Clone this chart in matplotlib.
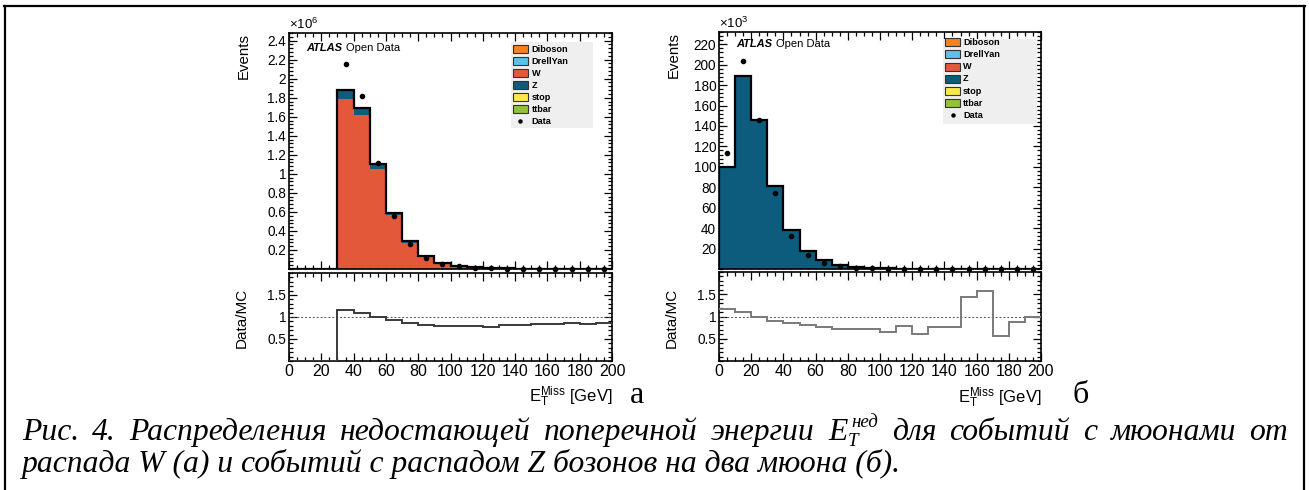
import numpy as np
import matplotlib
matplotlib.use("Agg")
import matplotlib.pyplot as plt
from matplotlib.ticker import MultipleLocator, FixedLocator, FuncFormatter, NullFormatter
from matplotlib.patches import Rectangle
from matplotlib.lines import Line2D

# ---------------- data ----------------
bin_edges = [0, 10, 20, 30, 40, 50, 60, 70, 80, 90, 100, 110, 120, 130, 140, 150, 160, 170, 180, 190, 200]
x_ticks = [0, 20, 40, 60, 80, 100, 120, 140, 160, 180, 200]
legend_names = ["Diboson", "DrellYan", "W", "Z", "stop", "ttbar"]

# (a) W -> mu nu selection
a_W = [0, 0, 0, 1.786e6, 1.623e6, 1.047e6, 0.566e6, 0.273e6, 0.123e6, 0.060e6, 0.031e6, 0.016e6,
       0.009e6, 0.005e6, 0.003e6, 0.002e6, 0.0013e6, 0.0009e6, 0.0006e6, 0.0004e6]
a_Z = [0, 0, 0, 0.098e6, 0.070e6, 0.059e6, 0.025e6, 0.021e6, 0.014e6, 0.007e6, 0.004e6, 0.002e6,
       0.001e6, 0.0006e6, 0.0004e6, 0.0003e6, 0.0002e6, 0.0001e6, 0.0001e6, 0.0001e6]
a_Diboson = [0, 0, 0, 300, 300, 250, 200, 150, 120, 90, 70, 50, 40, 30, 25, 20, 15, 12, 10, 8]
a_DrellYan = [0, 0, 0, 200, 150, 100, 60, 40, 25, 15, 10, 6, 4, 3, 2, 2, 1, 1, 1, 1]
a_stop = [0, 0, 0, 400, 400, 350, 300, 250, 200, 150, 120, 90, 70, 50, 40, 30, 25, 20, 15, 12]
a_ttbar = [0, 0, 0, 900, 950, 900, 800, 700, 600, 500, 400, 320, 250, 200, 160, 120, 100, 80, 60, 50]
a_data = [0, 0, 0, 2.152e6, 1.818e6, 1.117e6, 0.559e6, 0.259e6, 0.120e6, 0.054e6, 0.030e6, 0.015e6,
          0.008e6, 0.005e6, 0.003e6, 0.002e6, 0.0012e6, 0.0008e6, 0.0006e6, 0.0004e6]
a_ratio = [0, 0, 0, 1.15, 1.09, 1.00, 0.93, 0.87, 0.82, 0.79, 0.79, 0.79, 0.77, 0.82, 0.81,
           0.83, 0.85, 0.87, 0.84, 0.87]

# (b) Z -> mu mu selection
b_Z = [100.0e3, 188.8e3, 145.9e3, 80.8e3, 38.5e3, 17.4e3, 8.3e3, 3.7e3, 1.8e3, 1.0e3, 0.6e3, 0.4e3,
       0.3e3, 0.2e3, 0.15e3, 0.1e3, 0.08e3, 0.06e3, 0.05e3, 0.04e3]
b_Diboson = [30, 60, 60, 50, 40, 30, 25, 20, 15, 12, 10, 8, 6, 5, 4, 3, 3, 2, 2, 2]
b_DrellYan = [10, 20, 15, 8, 4, 2, 1, 1, 0, 0, 0, 0, 0, 0, 0, 0, 0, 0, 0, 0]
b_W = [0, 0, 0, 0, 0, 0, 0, 0, 0, 0, 0, 0, 0, 0, 0, 0, 0, 0, 0, 0]
b_stop = [2, 4, 5, 5, 5, 4, 4, 3, 3, 2, 2, 1, 1, 1, 1, 1, 1, 0, 0, 0]
b_ttbar = [20, 40, 50, 55, 55, 50, 45, 40, 35, 30, 25, 20, 16, 12, 10, 8, 6, 5, 4, 3]
b_data = [113.3e3, 203.7e3, 146.0e3, 74.3e3, 32.7e3, 13.8e3, 6.0e3, 2.8e3, 1.3e3, 0.7e3, 0.4e3, 0.3e3,
          0.2e3, 0.15e3, 0.1e3, 0.1e3, 0.08e3, 0.05e3, 0.04e3, 0.04e3]
b_ratio = [1.16, 1.10, 1.00, 0.91, 0.85, 0.80, 0.76, 0.72, 0.72, 0.71, 0.65, 0.78, 0.61, 0.76, 0.76,
           1.43, 1.57, 0.56, 0.88, 1.00]

caption_line1 = ["Рис.", "4.", "Распределения", "недостающей", "поперечной", "энергии", "E_T^нед",
                 "для", "событий", "с", "мюонами", "от"]
caption_line2 = "распада W (а) и событий с распадом Z бозонов на два мюона (б)."

colors = {"Diboson": "#f6821f", "DrellYan": "#5bc0eb", "W": "#e4583a", "Z": "#0d5c7d",
          "stop": "#fde84a", "ttbar": "#92c13a"}

# ---------------- figure ----------------
W_PX, H_PX = 1309, 490
fig = plt.figure(figsize=(W_PX / 100, H_PX / 100), dpi=100)
plt.rcParams["font.family"] = ["Liberation Sans", "DejaVu Sans"]
plt.rcParams["mathtext.fontset"] = "custom"
plt.rcParams["mathtext.rm"] = "Liberation Sans"
plt.rcParams["mathtext.it"] = "Liberation Sans:italic"


def fx(px):
    return px / W_PX


def fy(py):
    return 1 - py / H_PX


def add_axes_px(x0, y0, x1, y1):
    return fig.add_axes([fx(x0), fy(y1), fx(x1) - fx(x0), fy(y0) - fy(y1)])


edges = np.array(bin_edges, dtype=float)
centers = 0.5 * (edges[:-1] + edges[1:])


def style_axes(ax):
    for s in ax.spines.values():
        s.set_linewidth(1.2)
    ax.tick_params(which="both", direction="in", top=True, right=True, width=0.9)
    ax.tick_params(which="major", length=6)
    ax.tick_params(which="minor", length=3)
    ax.set_xlim(0, 200)
    ax.xaxis.set_major_locator(FixedLocator(x_ticks))
    ax.xaxis.set_minor_locator(MultipleLocator(5))


def draw_legend(ax, box, patch_x, text_x, row_top, row_step):
    bx0, by0, bx1, by1 = box
    ax.add_patch(Rectangle((bx0, by0), bx1 - bx0, by1 - by0, transform=ax.transAxes,
                           facecolor="#efefef", edgecolor="none", zorder=5))
    pw = patch_x[1] - patch_x[0]
    for i, name in enumerate(legend_names + ["Data"]):
        yc = row_top - i * row_step
        if name == "Data":
            ax.plot([(patch_x[0] + patch_x[1]) / 2], [yc], "o", ms=2.2, color="black",
                    transform=ax.transAxes, zorder=6)
        else:
            ax.add_patch(Rectangle((patch_x[0], yc - row_step * 0.33), pw, row_step * 0.66,
                                   transform=ax.transAxes, facecolor=colors[name],
                                   edgecolor="#333333", lw=0.8, zorder=6))
        ax.text(text_x, yc, name, transform=ax.transAxes, fontsize=6.6, fontweight="bold",
                va="center", ha="left", zorder=7)


def draw_panel(main_box, ratio_box, comps, data, ratio, ymax, ymajor, yminor, scale, expo,
               legend_box, patch_x, text_x, row_top, row_step, atlas_xy, ratio_color, tag, tag_xy):
    ax = add_axes_px(*main_box)
    axr = add_axes_px(*ratio_box)
    style_axes(ax)
    style_axes(axr)

    # stacked histograms (bottom -> top)
    order = ["W", "Z", "Diboson", "DrellYan", "stop", "ttbar"]
    base = np.zeros(len(centers))
    for name in order:
        vals = np.array(comps[name], dtype=float)
        top = base + vals
        if vals.sum() > 0:
            ax.stairs(top, edges, baseline=base.copy(), fill=True, color=colors[name], lw=0, zorder=2)
        base = top
    ax.stairs(base, edges, baseline=0, fill=False, color="black", lw=1.6, zorder=3)
    d = np.array(data, dtype=float)
    m = d > 0
    ax.plot(centers[m], d[m], "o", ms=3.0, color="black", zorder=4, clip_on=False)

    ax.set_ylim(0, ymax)
    ax.yaxis.set_major_locator(FixedLocator(ymajor))
    ax.yaxis.set_minor_locator(MultipleLocator(yminor))
    ax.yaxis.set_major_formatter(FuncFormatter(lambda v, p: f"{v / scale:g}"))
    ax.xaxis.set_major_formatter(NullFormatter())
    ax.tick_params(axis="y", labelsize=9.8, pad=2)
    ax.text(0.0, 1.005, r"$\mathregular{\times10^{%d}}$" % expo, transform=ax.transAxes,
            fontsize=9.5, ha="left", va="bottom")
    ax.text(-0.139, 1.0, "Events", rotation=90, transform=ax.transAxes, ha="center", va="top",
            fontsize=10.8)
    t = ax.text(atlas_xy[0], atlas_xy[1], "ATLAS", transform=ax.transAxes, fontsize=8,
                fontweight="bold", style="italic", va="center", ha="left")
    ax.annotate("Open Data", xy=(1, 0.5), xycoords=t, xytext=(2.5, 0), textcoords="offset points",
                fontsize=8, va="center", ha="left")
    draw_legend(ax, legend_box, patch_x, text_x, row_top, row_step)

    # ratio panel
    axr.stairs(ratio, edges, baseline=None, color=ratio_color, lw=1.4, zorder=3)
    axr.axhline(1.0, color="#555555", lw=0.7, ls=(0, (2, 2)), zorder=2)
    axr.set_ylim(0, 2)
    axr.yaxis.set_major_locator(FixedLocator([0.5, 1.0, 1.5]))
    axr.yaxis.set_minor_locator(MultipleLocator(0.1))
    axr.yaxis.set_major_formatter(FuncFormatter(lambda v, p: f"{v:g}"))
    axr.tick_params(axis="y", labelsize=9.8, pad=2)
    axr.tick_params(axis="x", labelsize=11.5, pad=2)
    axr.text(-0.146, 0.49, "Data/MC", rotation=90, transform=axr.transAxes, ha="center",
             va="center", fontsize=11)
    axr.text(1.0, -0.47, r"$\mathregular{E_{T}^{Miss}}$ [GeV]", transform=axr.transAxes,
             ha="right", va="baseline", fontsize=12)
    fig.text(fx(tag_xy[0]), fy(tag_xy[1]), tag, family="Liberation Serif", fontsize=23,
             ha="left", va="baseline")
    return ax, axr


draw_panel((289, 33, 612, 269), (289, 273, 612, 361),
           {"W": a_W, "Z": a_Z, "Diboson": a_Diboson, "DrellYan": a_DrellYan, "stop": a_stop,
            "ttbar": a_ttbar},
           a_data, a_ratio, 2.48e6, [v * 0.2e6 for v in range(1, 13)], 0.04e6, 1e6, 6,
           (0.687, 0.599, 0.941, 0.963), (0.693, 0.740), 0.751, 0.931, 0.0508, (0.053, 0.936),
           "#3a3a3a", "а", (630, 403))

draw_panel((719, 32, 1041, 269), (719, 272, 1041, 361),
           {"W": b_W, "Z": b_Z, "Diboson": b_Diboson, "DrellYan": b_DrellYan, "stop": b_stop,
            "ttbar": b_ttbar},
           b_data, b_ratio, 232e3, [v * 20e3 for v in range(1, 12)], 4e3, 1e3, 3,
           (0.696, 0.612, 0.988, 0.970), (0.702, 0.749), 0.758, 0.957, 0.0515, (0.053, 0.949),
           "#7a7a7a", "б", (1072, 403))

# ---------------- frame ----------------
fig.add_artist(Line2D([fx(4), fx(1305)], [fy(6), fy(6)], color="black", lw=1.6))
fig.add_artist(Line2D([fx(5), fx(5)], [fy(6), fy(490)], color="black", lw=1.6))
fig.add_artist(Line2D([fx(1304), fx(1304)], [fy(6), fy(490)], color="black", lw=1.6))

# ---------------- caption ----------------
fig.canvas.draw()
renderer = fig.canvas.get_renderer()
CAP = dict(family="Liberation Serif", style="italic", va="baseline", ha="left")
CAP_SIZE = 22.8


def put(s, x, y, size):
    t = fig.text(fx(x), fy(y), s, fontsize=size, **CAP)
    return t, t.get_window_extent(renderer).width


# build words of line 1 (measure first)
LEFT, RIGHT, BASE1, BASE2 = 22, 1288, 440, 472
SUB_DY, SUP_DY = 6, -13
items = []
for w in caption_line1:
    if w == "E_T^нед":
        tE, wE = put("E", 0, BASE1, CAP_SIZE)
        tT, wT = put("T", 0, BASE1 + SUB_DY, CAP_SIZE * 0.6)
        tS, wS = put("нед", 0, BASE1 + SUP_DY, CAP_SIZE * 0.6)
        items.append(("E", [(tE, 0, 0), (tT, wE, SUB_DY), (tS, wE + 4, SUP_DY)],
                      max(wE + wT, wE + 4 + wS)))
    else:
        t, wd = put(w, 0, BASE1, CAP_SIZE)
        items.append((w, [(t, 0, 0)], wd))
total_w = sum(it[2] for it in items)
gap = (RIGHT - LEFT - total_w) / (len(items) - 1)
x = LEFT
for _, parts, wd in items:
    for t, dx, dy in parts:
        t.set_position((fx(x + dx), fy(BASE1 + dy)))
    x += wd + gap

put(caption_line2, LEFT, BASE2, CAP_SIZE)

fig.savefig("out.png", dpi=100)
